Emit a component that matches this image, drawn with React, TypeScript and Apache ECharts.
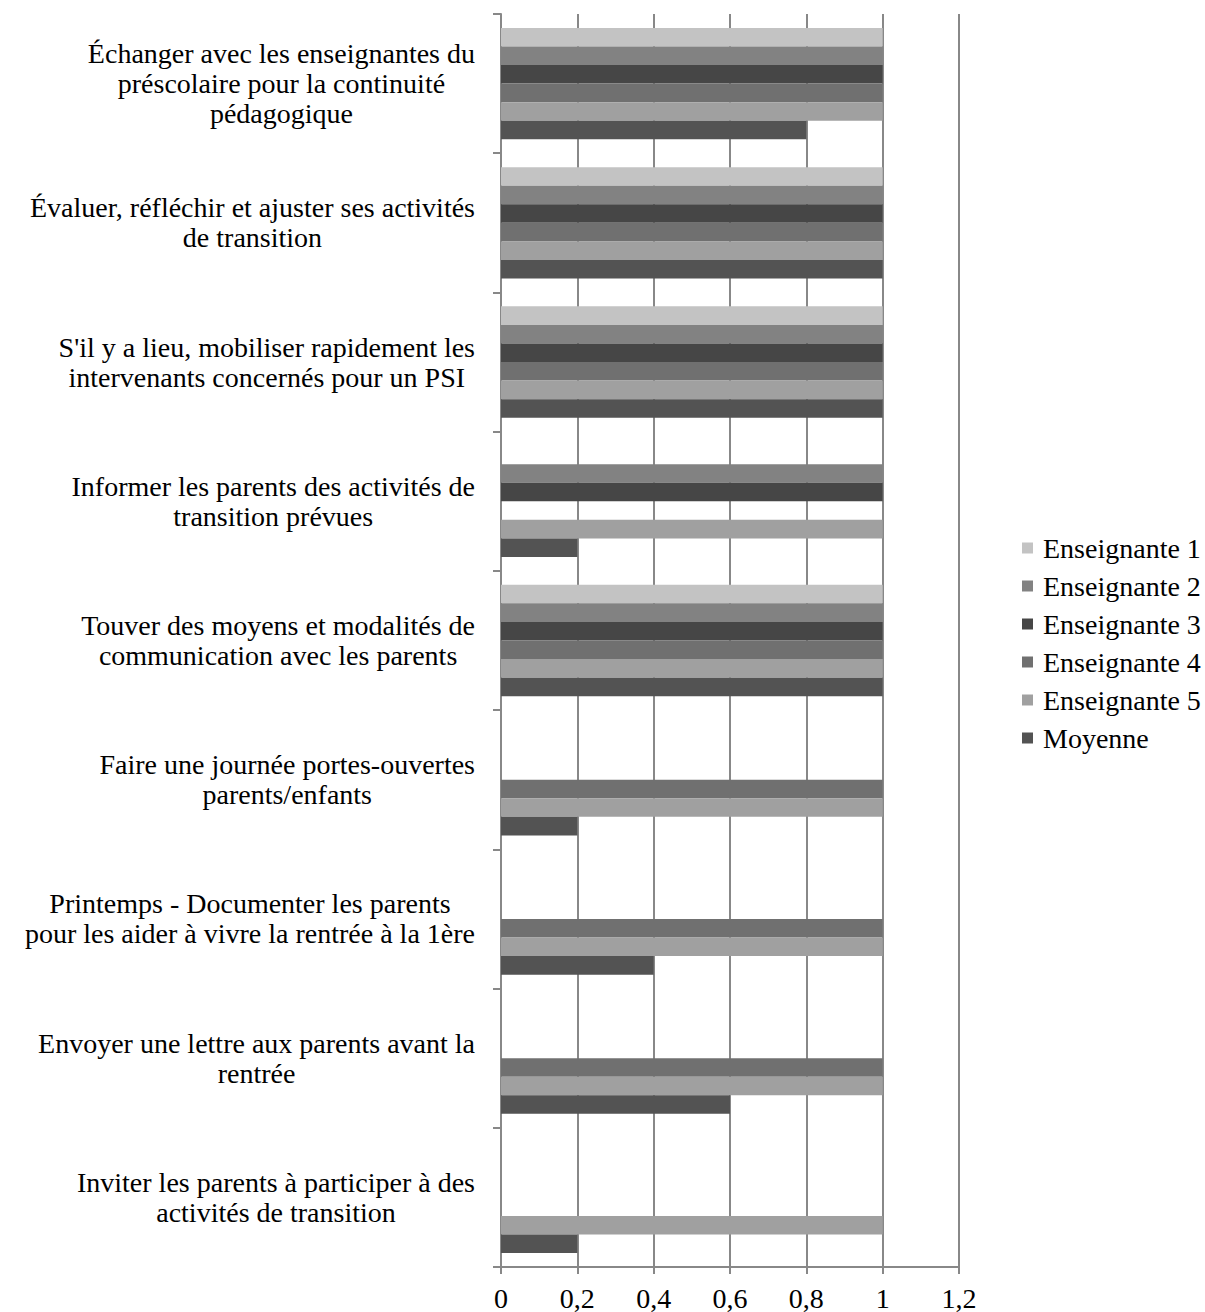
import React, { useEffect, useRef } from "react";
import * as echarts from "echarts";

const categories: string[] = [
  "Échanger avec les enseignantes du\npréscolaire pour la continuité\npédagogique",
  "Évaluer, réfléchir et ajuster ses activités\nde transition",
  "S'il y a lieu, mobiliser rapidement les\nintervenants concernés pour un PSI",
  "Informer les parents des activités de\ntransition prévues",
  "Touver des moyens et modalités de\ncommunication avec les parents",
  "Faire une journée portes-ouvertes\nparents/enfants",
  "Printemps - Documenter les parents\npour les aider à vivre la rentrée à la 1ère",
  "Envoyer une lettre aux parents avant la\nrentrée",
  "Inviter les parents à participer à des\nactivités de transition",
];

const seriesNames: string[] = [
  "Enseignante 1",
  "Enseignante 2",
  "Enseignante 3",
  "Enseignante 4",
  "Enseignante 5",
  "Moyenne",
];

const enseignante1: (number | null)[] = [1, 1, 1, null, 1, null, null, null, null];
const enseignante2: (number | null)[] = [1, 1, 1, 1, 1, null, null, null, null];
const enseignante3: (number | null)[] = [1, 1, 1, 1, 1, null, null, null, null];
const enseignante4: (number | null)[] = [1, 1, 1, null, 1, 1, 1, 1, null];
const enseignante5: (number | null)[] = [1, 1, 1, 1, 1, 1, 1, 1, 1];
const moyenne: (number | null)[] = [0.8, 1, 1, 0.2, 1, 0.2, 0.4, 0.6, 0.2];

const xTicks = { min: 0, max: 1.2, interval: 0.2 };

const colors = ["#c3c3c3", "#828282", "#464646", "#707070", "#a0a0a0", "#535353"];

const FONT = "'Liberation Serif', 'Times New Roman', serif";

export default function App() {
  const ref = useRef<HTMLDivElement>(null);
  useEffect(() => {
    if (!ref.current) return;
    const chart = echarts.init(ref.current, null, { renderer: "svg" });
    const data = [enseignante1, enseignante2, enseignante3, enseignante4, enseignante5, moyenne];
    chart.setOption({
      animation: false,
      backgroundColor: "#ffffff",
      textStyle: { fontFamily: FONT },
      grid: { left: 501, right: 246, top: 14, bottom: 42, containLabel: false },
      legend: {
        orient: "vertical",
        left: 1017,
        top: 529,
        icon: "rect",
        itemWidth: 11,
        itemHeight: 11,
        itemGap: 10,
        data: seriesNames,
        textStyle: {
          fontFamily: FONT,
          fontSize: 28,
          lineHeight: 28,
          color: "#000",
          padding: [0, 0, 0, 5],
        },
      },
      xAxis: {
        type: "value",
        min: xTicks.min,
        max: xTicks.max,
        interval: xTicks.interval,
        axisLine: { show: true, lineStyle: { color: "#888", width: 2 } },
        axisTick: { show: true, length: 7, lineStyle: { color: "#888", width: 2 } },
        splitLine: { show: true, lineStyle: { color: "#888", width: 2 } },
        axisLabel: {
          fontFamily: FONT,
          fontSize: 28,
          color: "#000",
          margin: 17,
          formatter: (v: number) => String(Number(v.toFixed(1))).replace(".", ","),
        },
      },
      yAxis: {
        type: "category",
        inverse: true,
        data: categories,
        axisLine: { show: true, lineStyle: { color: "#888", width: 2 } },
        axisTick: { show: true, length: 8, alignWithLabel: false, lineStyle: { color: "#888", width: 2 } },
        splitLine: { show: false },
        axisLabel: {
          margin: 26,
          formatter: (v: string) => `{c|${v}}`,
          rich: {
            c: {
              fontFamily: FONT,
              fontSize: 28,
              lineHeight: 30,
              color: "#000",
              align: "center",
            },
          },
        },
      },
      series: seriesNames.map((name, i) => ({
        name,
        type: "bar",
        data: data[i],
        barGap: "0%",
        barCategoryGap: "20%",
        itemStyle: { color: colors[i] },
      })),
    });
    return () => chart.dispose();
  }, []);
  return (
    <div
      ref={ref}
      style={{ position: "fixed", left: 0, top: 0, width: 1205, height: 1312 }}
    />
  );
}
